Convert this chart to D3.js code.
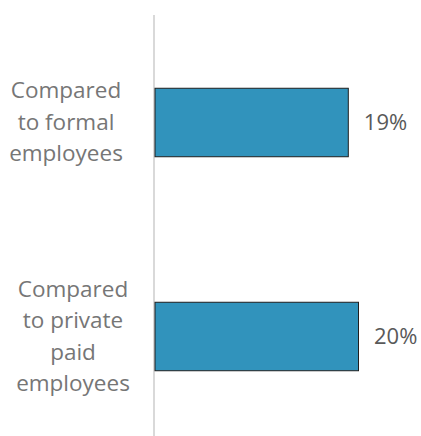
<!DOCTYPE html>
<html>
<head>
<meta charset="utf-8">
<script src="https://cdn.jsdelivr.net/npm/d3@7"></script>
<style>
  html, body { margin: 0; padding: 0; background: #fff; }
  svg { display: block; }
</style>
</head>
<body>
<svg id="chart" width="421" height="436"></svg>
<script>
// Category labels (each line drawn on its own row)
const categories = [
  ["Compared", "to formal", "employees"],
  ["Compared", "to private", "paid", "employees"]
];
// Share, in percent
const values = [19, 20];
const valueLabels = ["19%", "20%"];

const W = 421, H = 436;
const svg = d3.select("#chart");
const font = "'Open Sans', 'Noto Sans', sans-serif";

const x0 = 155;
const x = d3.scaleLinear().domain([0, 20]).range([x0, 359]);
const y = d3.scaleBand()
  .domain(d3.range(categories.length))
  .range([15, 443])
  .paddingInner(0.68)
  .paddingOuter(0.34);

// Category axis line
svg.append("line")
  .attr("x1", x0 - 1).attr("x2", x0 - 1)
  .attr("y1", 15).attr("y2", H)
  .attr("stroke", "#d9d9d9").attr("stroke-width", 2);

// Bars
svg.selectAll("rect.bar")
  .data(values)
  .join("rect")
  .attr("class", "bar")
  .attr("x", x(0))
  .attr("y", (d, i) => y(i) + 0.5)
  .attr("width", d => x(d) - x(0) - 0.5)
  .attr("height", y.bandwidth())
  .attr("fill", "#3193bc")
  .attr("stroke", "#1f1f1f")
  .attr("stroke-width", 1);

// Value labels
svg.selectAll("text.val")
  .data(values)
  .join("text")
  .attr("class", "val")
  .attr("x", d => x(d) + 15)
  .attr("y", (d, i) => y(i) + y.bandwidth() / 2)
  .attr("dy", "0.35em")
  .attr("font-family", font)
  .attr("font-size", 22)
  .attr("fill", "#595959")
  .text((d, i) => valueLabels[i]);

// Category labels, centred on each bar
const lineH = 31.5;
categories.forEach((lines, i) => {
  const cy = y(i) + y.bandwidth() / 2;
  const t = svg.append("text")
    .attr("text-anchor", "middle")
    .attr("font-family", font)
    .attr("font-size", 22.5)
    .attr("fill", "#767676");
  lines.forEach((s, k) => {
    t.append("tspan")
      .attr("x", i === 0 ? 66 : 73)
      .attr("y", cy + (k - (lines.length - 1) / 2) * lineH)
      .attr("dy", "0.35em")
      .text(s);
  });
});
</script>
</body>
</html>
